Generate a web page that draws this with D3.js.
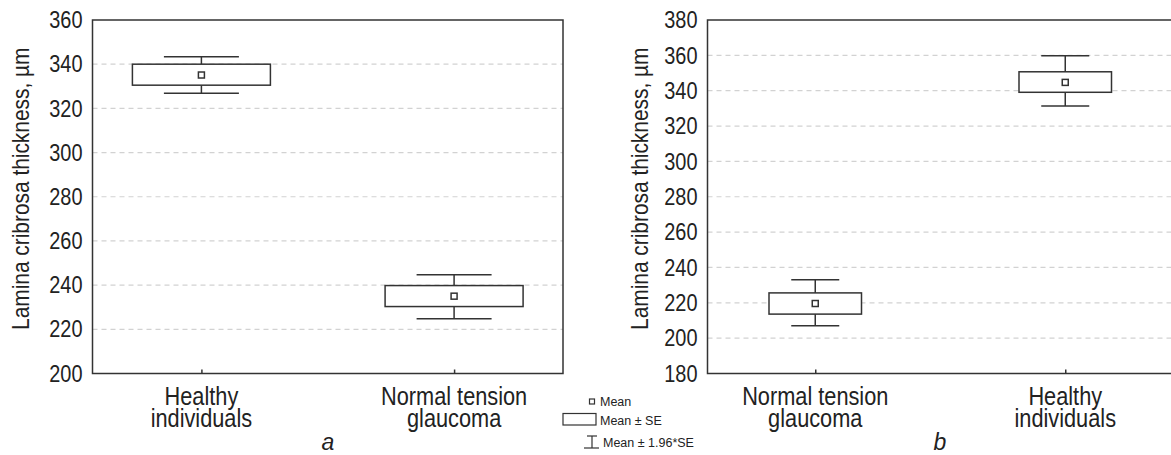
<!DOCTYPE html>
<html>
<head>
<meta charset="utf-8">
<script src="https://cdn.jsdelivr.net/npm/d3@7"></script>
<style>
  body { margin: 0; background: #fff; }
  svg { display: block; font-family: "Liberation Sans", Arial, sans-serif; }
  text { fill: #222; }
</style>
</head>
<body>
<svg id="chart" width="1171" height="455"></svg>
<script>
// panel a
var groupsA = ["Healthy individuals", "Normal tension glaucoma"];
var labelsA = [["Healthy", "individuals"], ["Normal tension", "glaucoma"]];
var meanA = [335.1, 235.0];
var seLoA = [330.5, 230.3];
var seHiA = [340.0, 239.8];
var ciLoA = [326.8, 224.8];
var ciHiA = [343.4, 244.7];
var ticksA = [200, 220, 240, 260, 280, 300, 320, 340, 360];

// panel b
var groupsB = ["Normal tension glaucoma", "Healthy individuals"];
var labelsB = [["Normal tension", "glaucoma"], ["Healthy", "individuals"]];
var meanB = [219.6, 344.7];
var seLoB = [213.6, 339.1];
var seHiB = [225.6, 350.7];
var ciLoB = [207.0, 331.3];
var ciHiB = [233.0, 359.8];
var ticksB = [180, 200, 220, 240, 260, 280, 300, 320, 340, 360, 380];

var yTitle = "Lamina cribrosa thickness, µm";
var legendItems = ["Mean", "Mean ± SE", "Mean ± 1.96*SE"];

var svg = d3.select("#chart");
var ink = "#333";
// the source uses a condensed face, squeeze the regular one
var sqTick = 0.83, sqLab = 0.87;

function drawPanel(opt){
  var g = svg.append("g");
  var x = d3.scalePoint().domain(opt.groups).range([opt.left, opt.right]).padding(0.431);
  var y = d3.scaleLinear().domain(d3.extent(opt.ticks)).range([opt.bottom, opt.top]);

  // dashed grid
  g.selectAll(".grid").data(opt.ticks.slice(1, -1)).join("line")
    .attr("x1", opt.left).attr("x2", opt.right)
    .attr("y1", d => y(d)).attr("y2", d => y(d))
    .attr("stroke", "#d2d2d2").attr("stroke-width", 1.2)
    .attr("stroke-dasharray", "5,4");

  // y axis labels (no tick marks)
  var ya = g.append("g").attr("transform", "translate(" + opt.left + ",0)")
    .call(d3.axisLeft(y).tickValues(opt.ticks).tickSize(0).tickPadding(10).tickFormat(d3.format("d")));
  ya.select(".domain").remove();
  ya.selectAll("text").attr("font-size", 24).attr("fill", "#222")
    .attr("font-family", "Liberation Sans, sans-serif")
    .attr("x", -10 / sqTick).attr("transform", "scale(" + sqTick + ",1)");

  // x axis inner ticks
  var xa = g.append("g").attr("transform", "translate(0," + opt.bottom + ")")
    .call(d3.axisBottom(x).tickSize(-4).tickFormat(""));
  xa.select(".domain").remove();
  xa.selectAll("line").attr("stroke", ink).attr("stroke-width", 1.5);

  // x labels, two lines each
  opt.groups.forEach(function(gr, i){
    var lg = g.append("g")
      .attr("transform", "translate(" + x(gr) + "," + (opt.bottom + 31) + ") scale(" + sqLab + ",1)");
    opt.labels[i].forEach(function(line, j){
      lg.append("text").attr("x", 0).attr("y", j * 23)
        .attr("text-anchor", "middle").attr("font-size", 25).text(line);
    });
  });

  // frame
  g.append("rect").attr("x", opt.left).attr("y", opt.top)
    .attr("width", opt.right - opt.left).attr("height", opt.bottom - opt.top)
    .attr("fill", "none").attr("stroke", ink).attr("stroke-width", 1.5);

  // whiskers, boxes, means
  opt.groups.forEach(function(gr, i){
    var cx = x(gr);
    var bw = opt.boxW / 2, ww = opt.whiskW / 2;
    g.append("line").attr("x1", cx).attr("x2", cx)
      .attr("y1", y(opt.ciHi[i])).attr("y2", y(opt.seHi[i]))
      .attr("stroke", ink).attr("stroke-width", 1.5);
    g.append("line").attr("x1", cx).attr("x2", cx)
      .attr("y1", y(opt.seLo[i])).attr("y2", y(opt.ciLo[i]))
      .attr("stroke", ink).attr("stroke-width", 1.5);
    [opt.ciHi[i], opt.ciLo[i]].forEach(function(v){
      g.append("line").attr("x1", cx - ww).attr("x2", cx + ww)
        .attr("y1", y(v)).attr("y2", y(v))
        .attr("stroke", ink).attr("stroke-width", 1.5);
    });
    g.append("rect").attr("x", cx - bw).attr("width", opt.boxW)
      .attr("y", y(opt.seHi[i])).attr("height", y(opt.seLo[i]) - y(opt.seHi[i]))
      .attr("fill", "#fff").attr("stroke", ink).attr("stroke-width", 1.5);
    g.append("rect").attr("x", cx - 3).attr("y", y(opt.mean[i]) - 3)
      .attr("width", 6).attr("height", 6)
      .attr("fill", "#fff").attr("stroke", ink).attr("stroke-width", 1.5);
  });

  // y title
  g.append("text")
    .attr("transform", "translate(" + opt.titleX + "," + ((opt.top + opt.bottom) / 2 - 8) + ") rotate(-90) scale(" + sqLab + ",1)")
    .attr("text-anchor", "middle").attr("font-size", 24).text(yTitle);

  // panel letter
  g.append("text").attr("x", opt.letterX).attr("y", 450)
    .attr("text-anchor", "middle").attr("font-size", 23).attr("font-style", "italic")
    .text(opt.letter);
}

drawPanel({groups: groupsA, labels: labelsA, mean: meanA, seLo: seLoA, seHi: seHiA,
  ciLo: ciLoA, ciHi: ciHiA, ticks: ticksA, left: 92.5, right: 563, top: 20, bottom: 373.5,
  boxW: 138, whiskW: 75, titleX: 29, letterX: 328, letter: "a"});

drawPanel({groups: groupsB, labels: labelsB, mean: meanB, seLo: seLoB, seHi: seHiB,
  ciLo: ciLoB, ciHi: ciHiB, ticks: ticksB, left: 707.5, right: 1173, top: 20, bottom: 373.5,
  boxW: 92.5, whiskW: 48, titleX: 648, letterX: 940, letter: "b"});

// legend
var lg = svg.append("g");
lg.append("rect").attr("x", 589.5).attr("y", 399).attr("width", 5).attr("height", 5)
  .attr("fill", "#fff").attr("stroke", ink).attr("stroke-width", 1.2);
lg.append("rect").attr("x", 563).attr("y", 413.5).attr("width", 33).attr("height", 11.5)
  .attr("fill", "#fff").attr("stroke", ink).attr("stroke-width", 1.2);
lg.append("line").attr("x1", 587).attr("x2", 597).attr("y1", 436).attr("y2", 436)
  .attr("stroke", ink).attr("stroke-width", 1.2);
lg.append("line").attr("x1", 592).attr("x2", 592).attr("y1", 436).attr("y2", 448)
  .attr("stroke", ink).attr("stroke-width", 1.2);
lg.append("line").attr("x1", 584).attr("x2", 599).attr("y1", 448).attr("y2", 448)
  .attr("stroke", ink).attr("stroke-width", 1.2);
var legY = [405.5, 425, 447];
var legX = [600, 600, 603];
lg.selectAll(".lt").data(legendItems).join("text")
  .attr("x", (d, i) => legX[i]).attr("y", (d, i) => legY[i])
  .attr("font-size", 12.5).text(d => d);
</script>
</body>
</html>
